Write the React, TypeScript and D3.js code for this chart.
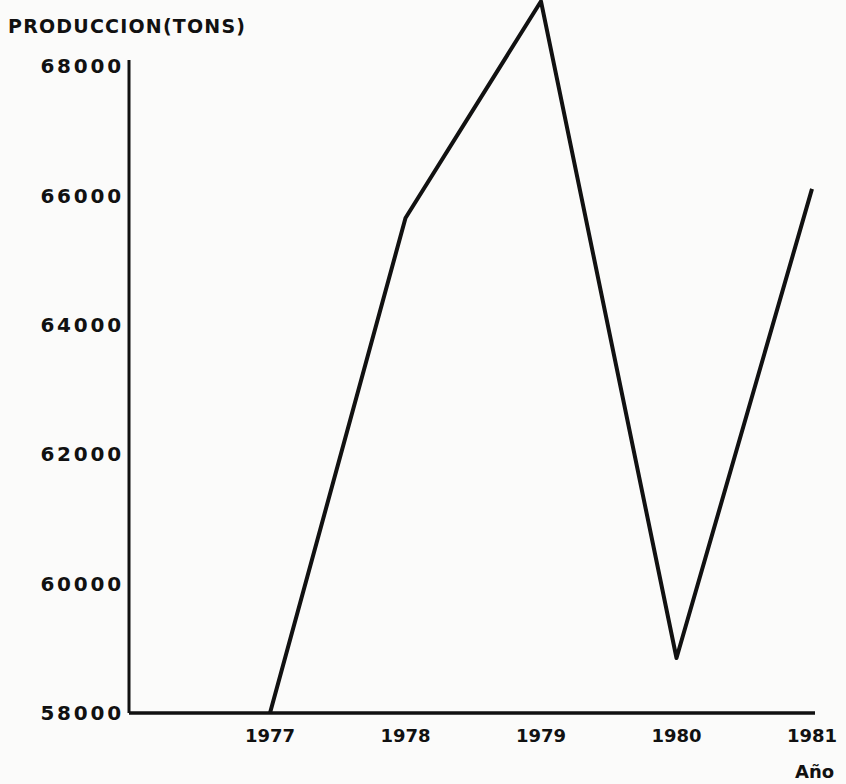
import * as d3 from 'd3'

const years = [1977, 1978, 1979, 1980, 1981]
const production = [58000, 65650, 69000, 58850, 66100]
const yTicks = [58000, 60000, 62000, 64000, 66000, 68000]

const WIDTH = 846
const HEIGHT = 784
const FONT = '"DejaVu Sans", Verdana, sans-serif'

export default function App() {
  const x = d3.scaleLinear().domain([1977, 1981]).range([270, 812])
  const y = d3.scaleLinear().domain([58000, 68000]).range([713, 66])
  const axisX = 129

  const line = d3
    .line<number>()
    .x((_, i) => x(years[i]))
    .y((d) => y(d))

  return (
    <svg
      width={WIDTH}
      height={HEIGHT}
      style={{ position: 'absolute', left: 0, top: 0, background: '#fbfbfa' }}
    >
      {/* title */}
      <text
        x={8}
        y={33}
        fontFamily={FONT}
        fontWeight="bold"
        fontSize={19}
        letterSpacing={1.2}
        fill="#111"
      >
        PRODUCCION(TONS)
      </text>

      {/* y axis */}
      <line x1={axisX} x2={axisX} y1={y(68000) - 6} y2={y(58000)} stroke="#111" strokeWidth={3} />
      {yTicks.map((t) => (
        <text
          key={t}
          x={124}
          y={y(t)}
          dy="0.36em"
          textAnchor="end"
          fontFamily={FONT}
          fontWeight="bold"
          fontSize={20}
          letterSpacing={2.8}
          fill="#111"
        >
          {t}
        </text>
      ))}

      {/* x axis */}
      <line x1={axisX} x2={x(1981) + 3} y1={y(58000)} y2={y(58000)} stroke="#111" strokeWidth={3.5} />
      {years.map((yr) => (
        <text
          key={yr}
          x={x(yr)}
          y={742}
          textAnchor="middle"
          fontFamily={FONT}
          fontWeight="bold"
          fontSize={18}
          fill="#111"
        >
          {yr}
        </text>
      ))}
      <text x={795} y={778} fontFamily={FONT} fontWeight="bold" fontSize={18} fill="#111">
        Año
      </text>

      {/* data line */}
      <path
        d={line(production) ?? ''}
        fill="none"
        stroke="#111"
        strokeWidth={4}
        strokeLinejoin="round"
      />
    </svg>
  )
}
